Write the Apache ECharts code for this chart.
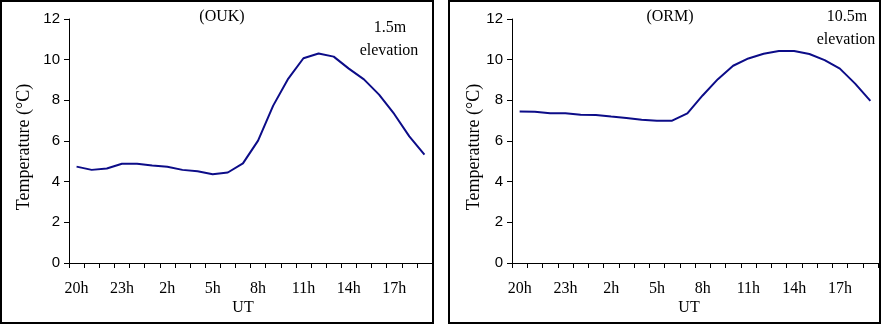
<!DOCTYPE html>
<html>
<head>
<meta charset="utf-8">
<title>Temperature OUK / ORM</title>
<script src="https://cdn.jsdelivr.net/npm/echarts@6/dist/echarts.min.js"></script>
<style>
  html, body { margin: 0; padding: 0; background: #fff; }
  #chartBox { width: 882px; height: 326px; }
</style>
</head>
<body>
<div id="chartBox"></div>
<script>
// hours (UT), 20h -> 19h
const hours = [
  "20h", "21h", "22h", "23h", "0h", "1h", "2h", "3h", "4h", "5h", "6h", "7h",
  "8h", "9h", "10h", "11h", "12h", "13h", "14h", "15h", "16h", "17h", "18h", "19h"
];
// OUK station, 1.5m elevation
const oukTemp = [
  4.74, 4.58, 4.65, 4.88, 4.88, 4.80, 4.73, 4.58, 4.51, 4.37, 4.45, 4.90,
  6.02, 7.74, 9.07, 10.07, 10.30, 10.15, 9.56, 9.03, 8.28, 7.33, 6.23, 5.33
];
// ORM station, 10.5m elevation
const ormTemp = [
  7.45, 7.44, 7.36, 7.36, 7.29, 7.28, 7.20, 7.13, 7.05, 7.00, 7.00, 7.36,
  8.24, 9.04, 9.70, 10.06, 10.29, 10.43, 10.43, 10.28, 9.98, 9.56, 8.82, 7.97
];
const yTicks = [0, 2, 4, 6, 8, 10, 12];

const serif = "'Liberation Serif', 'Times New Roman', serif";
const sans = "'Liberation Sans', Arial, sans-serif";
const lineColor = "#0c0c88";

function xAxisOf(gridIndex) {
  return {
    type: "category",
    gridIndex: gridIndex,
    data: hours,
    boundaryGap: true,
    axisLine: { show: true, lineStyle: { color: "#000", width: 1 } },
    axisTick: { show: true, interval: 0, length: 5, lineStyle: { color: "#000" } },
    axisLabel: {
      interval: 2,
      margin: 18,
      color: "#000",
      fontFamily: serif,
      fontSize: 16,
    },
    splitLine: { show: false },
  };
}

function yAxisOf(gridIndex) {
  return {
    type: "value",
    gridIndex: gridIndex,
    min: yTicks[0],
    max: yTicks[yTicks.length - 1],
    interval: 2,
    axisLine: { show: true, lineStyle: { color: "#000", width: 1 } },
    axisTick: { show: true, length: 5, lineStyle: { color: "#000" } },
    axisLabel: { margin: 9, color: "#000", fontFamily: sans, fontSize: 15 },
    splitLine: { show: false },
  };
}

function seriesOf(idx, data) {
  return {
    type: "line",
    xAxisIndex: idx,
    yAxisIndex: idx,
    data: data,
    showSymbol: false,
    symbol: "none",
    smooth: false,
    animation: false,
    lineStyle: { color: lineColor, width: 2 },
  };
}

function txt(x, y, text, size, rotate) {
  return {
    type: "text",
    x: x,
    y: y,
    rotation: rotate || 0,
    style: {
      text: text,
      fill: "#000",
      font: size + "px " + serif,
      textAlign: "center",
      textVerticalAlign: "middle",
    },
  };
}

function frame(x, w) {
  return {
    type: "rect",
    shape: { x: x, y: 1, width: w, height: 322 },
    style: { fill: "none", stroke: "#000", lineWidth: 2 },
  };
}

const option = {
  animation: false,
  grid: [
    { left: 69, right: 450, top: 19, bottom: 63 },
    { left: 512, right: 4, top: 19, bottom: 63 },
  ],
  xAxis: [xAxisOf(0), xAxisOf(1)],
  yAxis: [yAxisOf(0), yAxisOf(1)],
  series: [seriesOf(0, oukTemp), seriesOf(1, ormTemp)],
  graphic: [
    frame(1, 432),
    frame(449, 431),
    txt(222, 17, "(OUK)", 16),
    txt(390, 28, "1.5m", 16),
    txt(389, 51, "elevation", 16),
    txt(670, 17, "(ORM)", 16),
    txt(847, 17, "10.5m", 16),
    txt(846, 40, "elevation", 16),
    txt(243, 308, "UT", 16),
    txt(689, 308, "UT", 16),
    txt(24, 147, "Temperature (°C)", 18, Math.PI / 2),
    txt(474, 147, "Temperature (°C)", 18, Math.PI / 2),
  ],
};

const myChart = echarts.init(document.getElementById("chartBox"));
myChart.setOption(option);
window.addEventListener("resize", () => {
  myChart.resize();
});
</script>
</body>
</html>
